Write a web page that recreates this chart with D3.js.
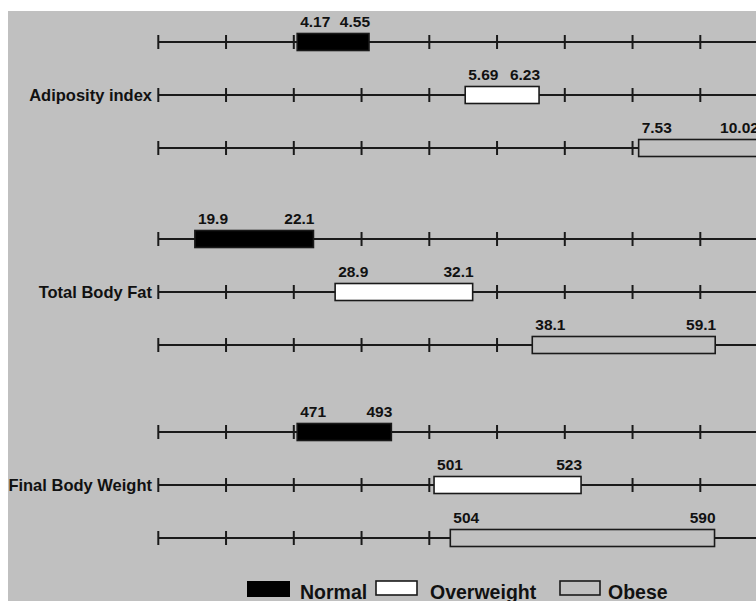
<!DOCTYPE html>
<html>
<head>
  <meta charset="utf-8">
  <script src="https://cdn.jsdelivr.net/npm/d3@7/dist/d3.min.js"></script>
  <style type="text/css">
    body { margin: 0; background: #fff; }
    text { font-family: "Liberation Sans", Arial, sans-serif; font-weight: bold; fill: #111; }
  </style>
</head>
<body>
<script>
  var w = 756;
  var h = 601;

  // measures and bodyweight categories
  var groups = ["Adiposity index", "Total Body Fat", "Final Body Weight"];
  var categories = ["Normal", "Overweight", "Obese"];

  // range labels (low / high) for each group, per category
  var lowValues  = [[4.17, 5.69, 7.53], [19.9, 28.9, 38.1], [471, 501, 504]];
  var highValues = [["4.55", "6.23", "10.02"], ["22.1", "32.1", "59.1"], ["493", "523", "590"]];

  // where each bar sits on the schematic (unlabelled) axis, in tick units
  var barStart = [[2.05, 4.53, 7.09], [0.54, 2.61, 5.52], [2.05, 4.07, 4.31]];
  var barEnd   = [[3.11, 5.62, 8.85], [2.29, 4.64, 8.22], [3.44, 6.24, 8.21]];

  var tickValues = [0, 1, 2, 3, 4, 5, 6, 7, 8];

  var fills = { "Normal": "#000", "Overweight": "#fff", "Obese": "#c0c0c0" };

  var svg = d3.select("body").append("svg")
              .attr("width", w)
              .attr("height", h);

  svg.append("rect")
     .attr("x", 8).attr("y", 11)
     .attr("width", w - 8).attr("height", h - 11)
     .attr("fill", "#c0c0c0");

  var x = d3.scaleLinear().domain([0, 8]).range([158.3, 700.3]);
  var groupY = d3.scaleLinear().domain([0, 2]).range([42, 432]);
  var rowStep = 53;
  var barH = 17;

  var rows = [];
  groups.forEach(function (g, gi) {
    categories.forEach(function (c, ci) {
      rows.push({
        group: g, gi: gi, cat: c, ci: ci,
        lo: lowValues[gi][ci], hi: highValues[gi][ci],
        s: barStart[gi][ci], e: barEnd[gi][ci],
        y: groupY(gi) + rowStep * ci + (gi == 1 ? 2 : 0)
      });
    });
  });

  var row = svg.selectAll("g.row")
               .data(rows)
               .enter()
               .append("g")
               .attr("class", "row")
               .attr("transform", function (d) { return "translate(0," + d.y + ")"; });

  row.append("line")
     .attr("x1", x(0)).attr("x2", x(9))
     .attr("stroke", "#1a1a1a").attr("stroke-width", 2);

  row.selectAll("line.tick")
     .data(tickValues)
     .enter()
     .append("line")
     .attr("class", "tick")
     .attr("x1", function (t) { return x(t); })
     .attr("x2", function (t) { return x(t); })
     .attr("y1", -7).attr("y2", 7)
     .attr("stroke", "#1a1a1a").attr("stroke-width", 2);

  row.append("rect")
     .attr("x", function (d) { return x(d.s); })
     .attr("y", -barH / 2)
     .attr("width", function (d) { return x(d.e) - x(d.s); })
     .attr("height", barH)
     .attr("fill", function (d) { return fills[d.cat]; })
     .attr("stroke", "#1a1a1a").attr("stroke-width", 1.6);

  row.append("text")
     .attr("x", function (d) { return x(d.s) + 3; })
     .attr("y", -barH / 2 - 7)
     .attr("font-size", "15.5px")
     .text(function (d) { return d.lo; });

  row.append("text")
     .attr("x", function (d) { return x(d.e) + 1; })
     .attr("y", -barH / 2 - 7)
     .attr("text-anchor", "end")
     .attr("font-size", "15.5px")
     .text(function (d) { return d.hi; });

  row.filter(function (d) { return d.ci == 1; })
     .append("text")
     .attr("x", 152)
     .attr("y", 0)
     .attr("dy", "0.36em")
     .attr("text-anchor", "end")
     .attr("font-size", "16.5px")
     .text(function (d) { return d.group; });

  // legend
  var legendX = [247, 376, 560];
  var legendW = [43, 41, 40];
  var legend = svg.selectAll("g.legend")
                  .data(categories)
                  .enter()
                  .append("g")
                  .attr("class", "legend")
                  .attr("transform", function (d, i) { return "translate(" + legendX[i] + ",581)"; });

  legend.append("rect")
        .attr("width", function (d, i) { return legendW[i]; })
        .attr("height", function (d, i) { return i == 0 ? 16 : 14; })
        .attr("fill", function (d) { return fills[d]; })
        .attr("stroke", function (d, i) { return i == 0 ? "none" : "#1a1a1a"; })
        .attr("stroke-width", 1.6);

  legend.append("text")
        .attr("x", function (d, i) { return legendW[i] + [10, 13, 8][i]; })
        .attr("y", 18)
        .attr("font-size", "19.5px")
        .text(function (d) { return d; });
</script>
</body>
</html>
